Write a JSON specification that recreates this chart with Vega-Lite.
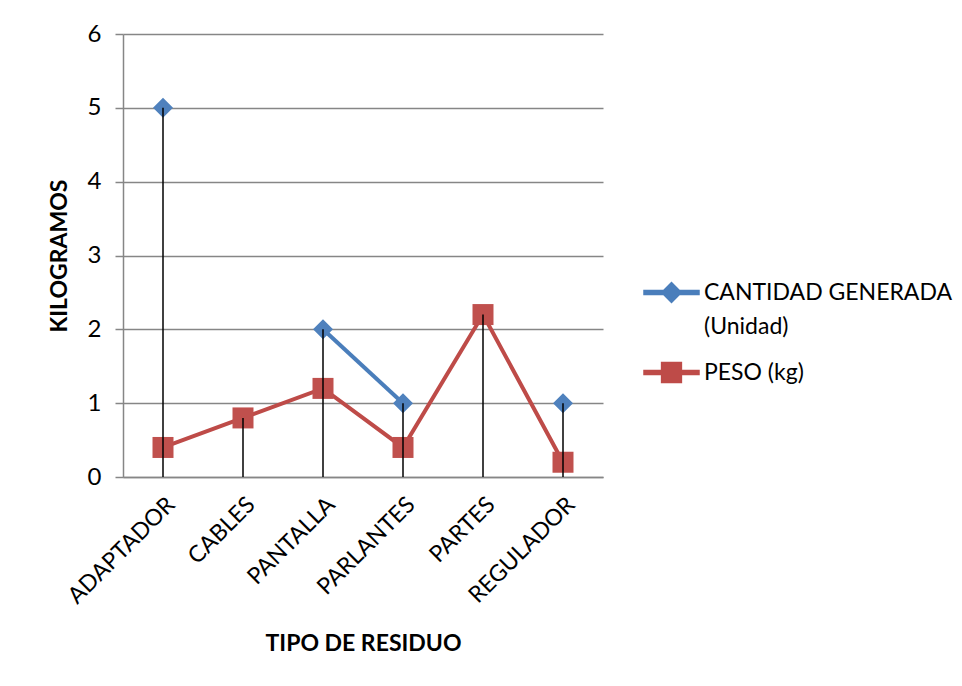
{
  "$schema": "https://vega.github.io/schema/vega-lite/v6.json",
  "width": 480,
  "height": 443,
  "autosize": {"type": "none"},
  "padding": {"left": 123, "top": 34, "right": 359, "bottom": 209},
  "background": "white",
  "config": {
    "font": "Lato",
    "view": {"stroke": null},
    "style": {"guide-label": {"lineHeight": 34}}
  },
  "data": {
    "values": [
      {"tipo": "ADAPTADOR", "serie": "CANTIDAD GENERADA (Unidad)", "valor": 5},
      {"tipo": "CABLES", "serie": "CANTIDAD GENERADA (Unidad)", "valor": null},
      {"tipo": "PANTALLA", "serie": "CANTIDAD GENERADA (Unidad)", "valor": 2},
      {"tipo": "PARLANTES", "serie": "CANTIDAD GENERADA (Unidad)", "valor": 1},
      {"tipo": "PARTES", "serie": "CANTIDAD GENERADA (Unidad)", "valor": null},
      {"tipo": "REGULADOR", "serie": "CANTIDAD GENERADA (Unidad)", "valor": 1},
      {"tipo": "ADAPTADOR", "serie": "PESO (kg)", "valor": 0.4},
      {"tipo": "CABLES", "serie": "PESO (kg)", "valor": 0.8},
      {"tipo": "PANTALLA", "serie": "PESO (kg)", "valor": 1.2},
      {"tipo": "PARLANTES", "serie": "PESO (kg)", "valor": 0.4},
      {"tipo": "PARTES", "serie": "PESO (kg)", "valor": 2.2},
      {"tipo": "REGULADOR", "serie": "PESO (kg)", "valor": 0.2}
    ]
  },
  "encoding": {
    "x": {
      "field": "tipo",
      "type": "nominal",
      "sort": null,
      "scale": {"type": "point", "padding": 0.5},
      "axis": {
        "title": "TIPO DE RESIDUO",
        "titleFont": "Lato",
        "titleFontSize": 23,
        "titleFontWeight": "bold",
        "titleColor": "black",
        "titlePadding": 24,
        "labelAngle": -45,
        "labelAlign": "right",
        "labelBaseline": "top",
        "labelFontSize": 23,
        "labelColor": "black",
        "labelPadding": 16,
        "ticks": false,
        "domainColor": "#868686",
        "domainWidth": 1.5,
        "grid": false
      }
    }
  },
  "layer": [
    {
      "mark": {"type": "line", "strokeWidth": 4, "invalid": "break-paths-filter-domains"},
      "encoding": {
        "y": {
          "field": "valor",
          "type": "quantitative",
          "scale": {"domain": [0, 6]},
          "axis": {
            "title": "KILOGRAMOS",
            "titleFont": "Lato",
            "titleFontSize": 23,
            "titleFontWeight": "bold",
            "titleColor": "black",
            "titlePadding": 16,
            "values": [0, 1, 2, 3, 4, 5, 6],
            "format": "d",
            "labelFontSize": 24,
            "labelColor": "black",
            "labelPadding": 14,
            "tickSize": 8,
            "tickColor": "#868686",
            "tickWidth": 1.5,
            "domainColor": "#868686",
            "domainWidth": 1.5,
            "grid": true,
            "gridColor": "#868686",
            "gridWidth": 1.5
          }
        },
        "color": {
          "field": "serie",
          "type": "nominal",
          "scale": {
            "domain": ["CANTIDAD GENERADA (Unidad)", "PESO (kg)"],
            "range": ["#4A7EBB", "#BE4B48"]
          },
          "legend": {
            "orient": "none",
            "legendX": 520,
            "legendY": 230,
            "title": null,
            "labelFontSize": 23,
            "labelColor": "black",
            "labelOffset": 4,
            "labelLimit": 400,
            "symbolSize": 3025,
            "rowPadding": 5,
            "labelExpr": "datum.label == 'CANTIDAD GENERADA (Unidad)' ? ['CANTIDAD GENERADA', '(Unidad)'] : datum.label",
            "encode": {
              "symbols": {
                "update": {
                  "shape": {"signal": "datum.value == 'PESO (kg)' ? 'M-1,-0.073 L-0.36,-0.073 L-0.36,-0.36 L0.36,-0.36 L0.36,-0.073 L1,-0.073 L1,0.073 L0.36,0.073 L0.36,0.36 L-0.36,0.36 L-0.36,0.073 L-1,0.073 Z' : 'M-1,-0.073 L-0.287,-0.073 L0,-0.36 L0.287,-0.073 L1,-0.073 L1,0.073 L0.287,0.073 L0,0.36 L-0.287,0.073 L-1,0.073 Z'"},
                  "fill": {"signal": "datum.value == 'PESO (kg)' ? '#BE4B48' : '#4A7EBB'"},
                  "stroke": {"value": "transparent"},
                  "opacity": {"value": 1}
                }
              }
            }
          }
        }
      }
    },
    {
      "transform": [{"filter": "datum.serie == 'CANTIDAD GENERADA (Unidad)'"}],
      "mark": {"type": "point", "shape": "diamond", "size": 400, "filled": true, "opacity": 1, "color": "#4F81BD"},
      "encoding": {
        "y": {"field": "valor", "type": "quantitative"}
      }
    },
    {
      "transform": [{"filter": "datum.serie == 'PESO (kg)'"}],
      "mark": {"type": "point", "shape": "square", "size": 441, "filled": true, "opacity": 1, "color": "#C0504D"},
      "encoding": {
        "y": {"field": "valor", "type": "quantitative"}
      }
    },
    {
      "mark": {"type": "rule", "color": "black", "strokeWidth": 1.5},
      "encoding": {
        "y": {"aggregate": "max", "field": "valor", "type": "quantitative"},
        "y2": {"datum": 0}
      }
    }
  ]
}
